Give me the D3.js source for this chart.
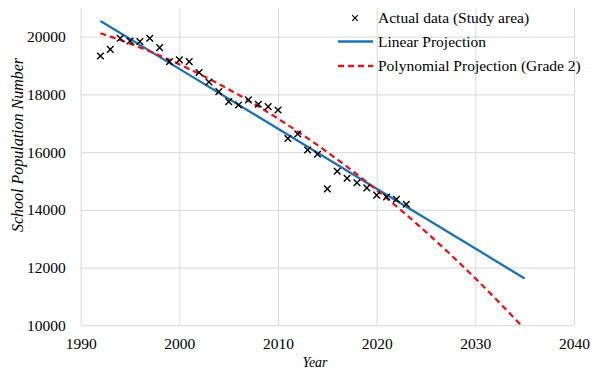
<!DOCTYPE html>
<html>
<head>
<meta charset="utf-8">
<script src="https://cdn.jsdelivr.net/npm/d3@7"></script>
<style>
  body { margin: 0; background: #fff; }
  text { font-family: "Liberation Serif", "Times New Roman", serif; fill: #000; }
</style>
</head>
<body>
<svg id="chart" width="592" height="370"></svg>
<script>
// actual school population
let years = [1992, 1993, 1994, 1995, 1996, 1997, 1998, 1999, 2000, 2001, 2002, 2003, 2004, 2005, 2006, 2007,
             2008, 2009, 2010, 2011, 2012, 2013, 2014, 2015, 2016, 2017, 2018, 2019, 2020, 2021, 2022, 2023];
let actual = [19330, 19560, 19945, 19850, 19830, 19945, 19620, 19135, 19195, 19135, 18760, 18430, 18095, 17750, 17635, 17810,
              17660, 17575, 17460, 16470, 16630, 16075, 15925, 14725, 15335, 15095, 14940, 14760, 14510, 14445, 14365, 14195];

// projection lines, sampled along the drawn curves
let linYears = [1992, 2000, 2010, 2020, 2030, 2035];
let linValues = [20544, 18884, 16809, 14734, 12659, 11621];
let polyYears = [1992, 1995, 2000, 2005, 2010, 2015, 2020, 2025, 2030, 2035];
let polyValues = [20118, 19758, 19040, 18174, 17160, 15998, 14688, 13231, 11625, 9872];

let xTicks = [1990, 2000, 2010, 2020, 2030, 2040];
let yTicks = [10000, 12000, 14000, 16000, 18000, 20000];

let legendLabels = ["Actual data (Study area)", "Linear Projection", "Polynomial Projection (Grade 2)"];

var svg = d3.select("#chart");
var plotLeft = 80.7, plotRight = 574, plotTop = 7.8, plotBottom = 325.3;
var gridColor = "#d9d9d9";
var blue = "#1b72b9";
var red = "#e8141b";
var serif = "'Liberation Serif', 'Times New Roman', serif";

var x = d3.scaleLinear().domain([1990, 2040]).range([plotLeft, plotRight]);
var y = d3.scaleLinear().domain([10000, 21000]).range([plotBottom, plotTop]);

svg.append("rect").attr("width", 592).attr("height", 370).style("fill", "#fff");

svg.append("defs").append("clipPath").attr("id", "plotClip")
    .append("rect").attr("x", plotLeft).attr("y", 0).attr("width", plotRight - plotLeft + 10).attr("height", plotBottom);

// x axis + vertical grid
var xAxis = svg.append("g")
    .attr("transform", "translate(0," + plotBottom + ")")
    .call(d3.axisBottom(x).tickValues(xTicks).tickSize(-(plotBottom - plotTop)).tickPadding(13).tickFormat(d3.format("d")));
xAxis.select(".domain").remove();
xAxis.selectAll("line").style("stroke", gridColor).style("stroke-width", 1);
xAxis.selectAll("text").style("font-size", "15.5px").style("font-family", serif);

// y axis + horizontal grid
var yAxis = svg.append("g")
    .attr("transform", "translate(" + plotLeft + ",0)")
    .call(d3.axisLeft(y).tickValues(yTicks).tickSize(-(plotRight - plotLeft)).tickPadding(15).tickFormat(d3.format("d")));
yAxis.select(".domain").remove();
yAxis.selectAll("line").style("stroke", gridColor).style("stroke-width", 1);
yAxis.selectAll("text").style("font-size", "15.5px").style("font-family", serif);

// axis titles
svg.append("text")
    .attr("x", 315).attr("y", 367)
    .attr("text-anchor", "middle")
    .style("font-size", "14px").style("font-style", "italic")
    .text("Year");

svg.append("text")
    .attr("transform", "translate(17," + 145 + ") rotate(-90)")
    .attr("text-anchor", "middle")
    .attr("dy", "0.35em")
    .style("font-size", "16px").style("font-style", "italic")
    .text("School Population Number");

// lines
var line = d3.line().x(function(d) { return x(d[0]); }).y(function(d) { return y(d[1]); });
var lineCurve = d3.line().curve(d3.curveMonotoneX).x(function(d) { return x(d[0]); }).y(function(d) { return y(d[1]); });

var plot = svg.append("g").attr("clip-path", "url(#plotClip)");

plot.append("path")
    .datum(linYears.map(function(yr, i) { return [yr, linValues[i]]; }))
    .attr("d", line)
    .style("fill", "none").style("stroke", blue).style("stroke-width", 2.3);

plot.append("path")
    .datum(polyYears.map(function(yr, i) { return [yr, polyValues[i]]; }))
    .attr("d", lineCurve)
    .style("fill", "none").style("stroke", red).style("stroke-width", 2.3)
    .style("stroke-dasharray", "6,4");

// actual data markers
var s = 3.3;
function cross(cx, cy) {
    return "M" + (cx - s) + "," + (cy - s) + "L" + (cx + s) + "," + (cy + s) +
           "M" + (cx - s) + "," + (cy + s) + "L" + (cx + s) + "," + (cy - s);
}
svg.append("g")
    .selectAll("path")
    .data(years.map(function(yr, i) { return [yr, actual[i]]; }))
    .enter().append("path")
    .attr("d", function(d) { return cross(x(d[0]), y(d[1])); })
    .style("stroke", "#000").style("stroke-width", 1.4).style("fill", "none");

// legend
var legend = svg.append("g");
var legY = [18, 41.5, 66];
s = 2.8;
legend.append("path").attr("d", cross(355, legY[0])).style("stroke", "#000").style("stroke-width", 1.2);
legend.append("line").attr("x1", 338).attr("x2", 373).attr("y1", legY[1]).attr("y2", legY[1])
    .style("stroke", blue).style("stroke-width", 2.3);
legend.append("line").attr("x1", 338).attr("x2", 373).attr("y1", legY[2]).attr("y2", legY[2])
    .style("stroke", red).style("stroke-width", 2.3).style("stroke-dasharray", "6,4");
legend.selectAll("text")
    .data(legendLabels)
    .enter().append("text")
    .attr("x", 378)
    .attr("y", function(d, i) { return legY[i]; })
    .attr("dy", "0.35em")
    .style("font-size", "15.5px")
    .text(function(d) { return d; });
</script>
</body>
</html>
